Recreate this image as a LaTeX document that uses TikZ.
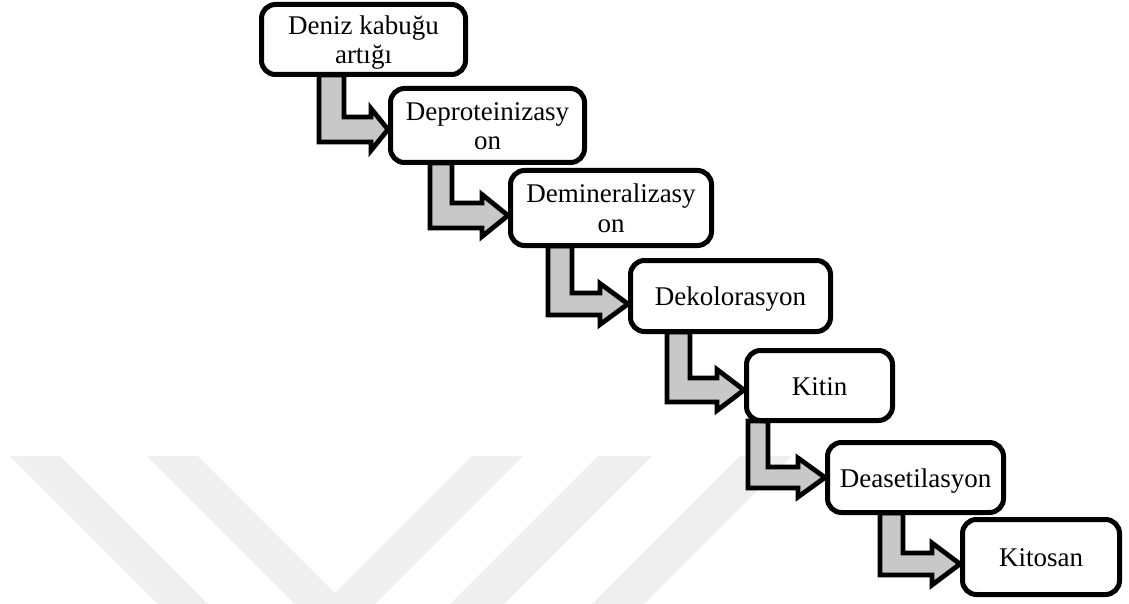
\documentclass[tikz,border=0pt]{standalone}
\usepackage{fontspec}
\setmainfont{Liberation Serif}
\usetikzlibrary{calc}
\definecolor{arrowgray}{RGB}{200,200,200}
\definecolor{wmgray}{RGB}{239,239,239}
\newcommand{\tup}{\rule{0pt}{27pt}}
\newcommand{\tdn}{\rule[-8pt]{0pt}{8pt}}
\tikzset{
  stepbox/.style={draw=black, line width=5pt, rounded corners=14pt, fill=white,
    align=center, inner sep=0pt, font=\fontsize{27}{29}\selectfont},
  barrowstyle/.style={draw=black, line width=4.8pt, fill=arrowgray, line join=miter, miter limit=10},
  wmark/.style={fill=wmgray, draw=none}
}
% #1 target node, #2 tip dy, #3 head length, #4 head half height,
% #5 shaft half thickness, #6 horizontal shaft length, #7 vertical shaft length, #8 shaft width
\newcommand{\bentarrow}[8]{%
  \draw[barrowstyle] ($(#1.west)+(0,#2)$) -- ++(-#3,-#4) -- ++(0,#4-#5) -- ++(-#6,0)
    -- ++(0,-#7) -- ++(-#8,0) -- ++(0,#7+2*#5) -- ++(#8+#6,0) -- ++(0,#4-#5) -- cycle;}
\begin{document}
\begin{tikzpicture}[x=1pt,y=-1pt]
\useasboundingbox (0,0) rectangle (1129,604);
% faint watermark
\fill[wmark] (10,456) -- (60,456) -- (208,604) -- (158,604) -- cycle;
\fill[wmark] (147,456) -- (198,456) -- (346,604) -- (295,604) -- cycle;
\fill[wmark] (472,456) -- (523,456) -- (375,604) -- (324,604) -- cycle;
\fill[wmark] (598,456) -- (652,456) -- (504,604) -- (450,604) -- cycle;
\fill[wmark] (740,456) -- (792,456) -- (644,604) -- (592,604) -- cycle;
% box centres
\path
  (363.5,39.5) coordinate (c1)
  (487.5,125.5) coordinate (c2)
  (611,208) coordinate (c3)
  (730.5,296) coordinate (c4)
  (819.5,385.5) coordinate (c5)
  (915.5,477.5) coordinate (c6)
  (1041,557) coordinate (c7);
% anchors of the target boxes for the arrows
\node[stepbox, draw=none, fill=none, minimum width=194pt, minimum height=74pt] (b2) at (c2) {};
\node[stepbox, draw=none, fill=none, minimum width=201pt, minimum height=75pt] (b3) at (c3) {};
\node[stepbox, draw=none, fill=none, minimum width=200pt, minimum height=71pt] (b4) at (c4) {};
\node[stepbox, draw=none, fill=none, minimum width=146pt, minimum height=70pt] (b5) at (c5) {};
\node[stepbox, draw=none, fill=none, minimum width=176pt, minimum height=70pt] (b6) at (c6) {};
\node[stepbox, draw=none, fill=none, minimum width=157pt, minimum height=75pt] (b7) at (c7) {};
% bent block arrows
\bentarrow{b2}{4}{17}{21}{12.5}{27}{42}{25}
\bentarrow{b3}{7.5}{26}{21}{12.5}{30}{40}{22}
\bentarrow{b4}{8}{28}{20.5}{11}{28}{47}{24}
\bentarrow{b5}{4.5}{27}{20.5}{12}{27}{46}{23}
\bentarrow{b6}{0}{27}{19.5}{10.5}{30}{46}{20}
\bentarrow{b7}{7}{28}{21}{11}{29}{40}{23}
% visible boxes
\node[stepbox, minimum width=204pt, minimum height=70pt] (n1) at (c1) {\tup Deniz kabuğu\\artığı\tdn};
\node[stepbox, minimum width=194pt, minimum height=74pt] (n2) at (c2) {\tup Deproteinizasy\\on\tdn};
\node[stepbox, minimum width=201pt, minimum height=75pt] (n3) at (c3) {\tup Demineralizasy\\on\tdn};
\node[stepbox, minimum width=200pt, minimum height=71pt] (n4) at (c4) {\tup Dekolorasyon\tdn};
\node[stepbox, minimum width=146pt, minimum height=70pt] (n5) at (c5) {\tup Kitin\tdn};
\node[stepbox, minimum width=176pt, minimum height=70pt] (n6) at (c6) {\tup Deasetilasyon\tdn};
\node[stepbox, minimum width=157pt, minimum height=75pt] (n7) at (c7) {\tup Kitosan\tdn};
\end{tikzpicture}
\end{document}
